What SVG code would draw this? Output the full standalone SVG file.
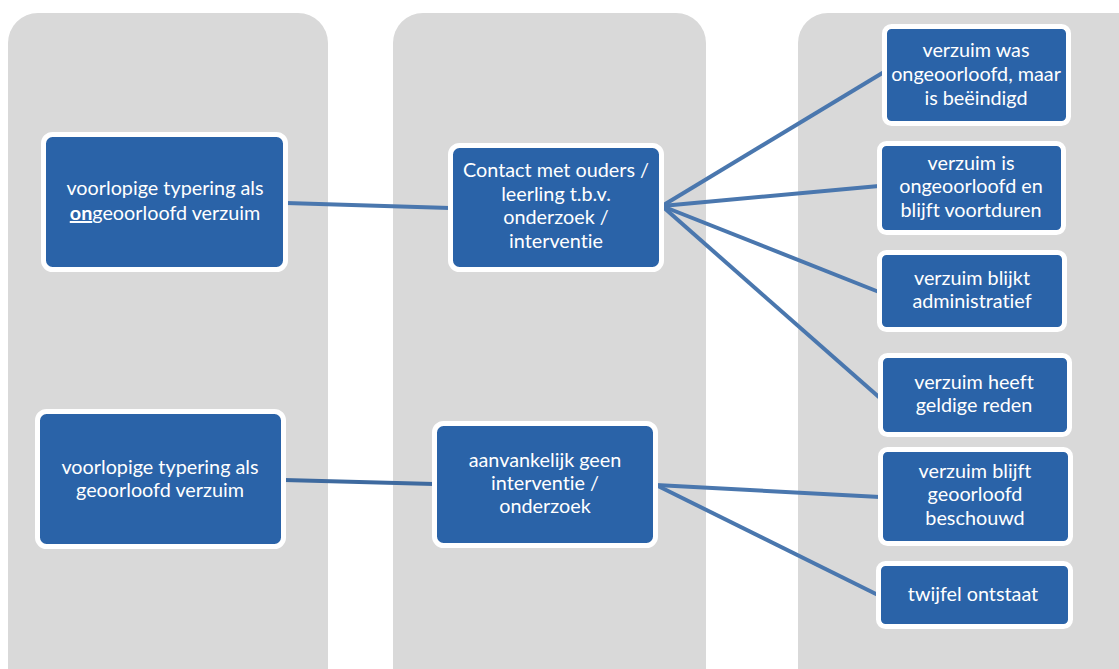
<svg xmlns="http://www.w3.org/2000/svg" width="1119" height="669" viewBox="0 0 1119 669">
<style>
.panel{fill:#d9d9d9}
.node rect{fill:#2a63a8;stroke:#ffffff;stroke-width:5}
.node text{font-family:Lato,"Open Sans",sans-serif;font-size:19.8px;fill:#ffffff;text-anchor:middle;font-variant-ligatures:none;font-feature-settings:"liga" 0,"dlig" 0}
.conn line{stroke:#4a77ae;stroke-width:4;stroke-linecap:butt}
</style>
<rect width="1119" height="669" fill="#ffffff"/>
<g id="panels">
<rect class="panel" x="8" y="13" width="320" height="700" rx="30"/>
<rect class="panel" x="393" y="13" width="313" height="700" rx="30"/>
<rect class="panel" x="798" y="13" width="360" height="700" rx="30"/>
</g>
<g id="connectors" class="conn">
<line x1="286" y1="203" x2="450" y2="208"/>
<line x1="284" y1="480" x2="434" y2="484" style="stroke:#3e6a9f"/>
<line x1="662" y1="206" x2="884" y2="72"/>
<line x1="662" y1="206" x2="879" y2="186"/>
<line x1="662" y1="206" x2="879" y2="292"/>
<line x1="662" y1="206" x2="880" y2="398"/>
<line x1="656" y1="485" x2="880" y2="497"/>
<line x1="656" y1="485" x2="878" y2="595"/>
</g>
<g id="n-left1" class="node">
<rect x="43.5" y="134.5" width="242" height="135" rx="9"/>
<text x="165" y="195">voorlopige typering als</text>
<text x="165" y="220"><tspan font-weight="bold" text-decoration="underline">on</tspan>geoorloofd verzuim</text>
</g>
<g id="n-left2" class="node">
<rect x="37.5" y="411.5" width="246" height="135" rx="9"/>
<text x="160" y="474">voorlopige typering als</text>
<text x="160" y="497">geoorloofd verzuim</text>
</g>
<g id="n-mid1" class="node">
<rect x="450.5" y="145.5" width="211" height="124" rx="9"/>
<text x="556" y="177">Contact met ouders /</text>
<text x="556" y="201">leerling t.b.v.</text>
<text x="556" y="224">onderzoek /</text>
<text x="556" y="248">interventie</text>
</g>
<g id="n-mid2" class="node">
<rect x="434.5" y="423.5" width="221" height="122" rx="9"/>
<text x="545" y="467">aanvankelijk geen</text>
<text x="545" y="490">interventie /</text>
<text x="545" y="513">onderzoek</text>
</g>
<g id="n-r1" class="node">
<rect x="884.5" y="26.5" width="184" height="97" rx="7"/>
<text x="976" y="57">verzuim was</text>
<text x="976" y="81">ongeoorloofd, maar</text>
<text x="976" y="105">is beëindigd</text>
</g>
<g id="n-r2" class="node">
<rect x="879.5" y="143.5" width="184" height="89" rx="7"/>
<text x="971" y="170">verzuim is</text>
<text x="971" y="193">ongeoorloofd en</text>
<text x="971" y="217">blijft voortduren</text>
</g>
<g id="n-r3" class="node">
<rect x="879.5" y="252.5" width="185" height="77" rx="7"/>
<text x="972" y="285">verzuim blijkt</text>
<text x="972" y="308">administratief</text>
</g>
<g id="n-r4" class="node">
<rect x="880.5" y="355.5" width="189" height="79" rx="7"/>
<text x="974" y="389">verzuim heeft</text>
<text x="974" y="412">geldige reden</text>
</g>
<g id="n-r5" class="node">
<rect x="880.5" y="449.5" width="190" height="94" rx="7"/>
<text x="975" y="478">verzuim blijft</text>
<text x="975" y="501">geoorloofd</text>
<text x="975" y="525">beschouwd</text>
</g>
<g id="n-r6" class="node">
<rect x="878.5" y="563.5" width="192" height="63" rx="7"/>
<text x="973" y="601">twijfel ontstaat</text>
</g>
</svg>
